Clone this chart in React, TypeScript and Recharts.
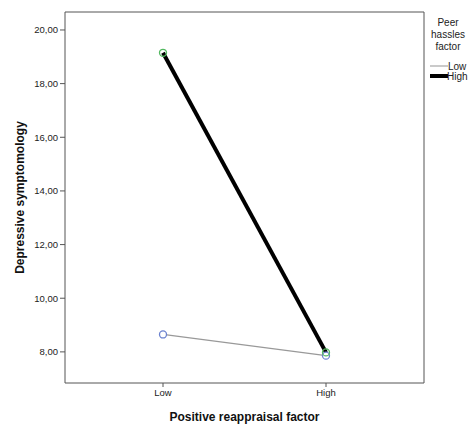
import { LineChart, Line, XAxis, YAxis } from "recharts";

const reappraisalLevels = ["Low", "High"];
const lowHassles = [8.65, 7.86];
const highHassles = [19.15, 7.98];
const yTicks = [8, 10, 12, 14, 16, 18, 20];
const yDomain = [6.84, 20.67];

const data = reappraisalLevels.map((level, i) => ({
  level,
  low: lowHassles[i],
  high: highHassles[i],
}));

const FONT = "'Liberation Sans', Arial, sans-serif";
const fmt = (v: number) => v.toFixed(2).replace(".", ",");

const BlueDot = (props: any) => {
  const { cx, cy } = props;
  if (cx == null || cy == null) return null;
  return <circle cx={cx} cy={cy} r={3.5} fill="#fff" stroke="#6b82cf" strokeWidth={1.3} />;
};

const GreenDot = (props: any) => {
  const { cx, cy } = props;
  if (cx == null || cy == null) return null;
  return <circle cx={cx} cy={cy} r={3.5} fill="none" stroke="#52b860" strokeWidth={1.3} />;
};

function PeerLegend() {
  return (
    <div
      style={{
        position: "absolute",
        left: 426,
        top: 17,
        width: 44,
        fontFamily: FONT,
        fontSize: 10,
        color: "#222",
        textAlign: "center",
        lineHeight: "12px",
      }}
    >
      <div>Peer</div>
      <div>hassles</div>
      <div>factor</div>
      <svg width={44} height={24} style={{ display: "block", marginTop: 8 }}>
        <line x1={4} y1={5} x2={22} y2={5} stroke="#a6a6a6" strokeWidth={1.2} />
        <text x={22} y={9} fontSize={10} fill="#222" fontFamily={FONT}>Low</text>
        <line x1={4} y1={15} x2={22} y2={15} stroke="#000" strokeWidth={4} />
        <text x={21} y={19} fontSize={10} fill="#222" fontFamily={FONT}>High</text>
      </svg>
    </div>
  );
}

export default function App() {
  return (
    <div style={{ position: "absolute", left: 0, top: 0, width: 470, height: 426, background: "#fff" }}>
      <LineChart width={470} height={426} data={data} margin={{ top: 11, right: 45, left: 20, bottom: 13 }}>
        <XAxis
          dataKey="level"
          padding={{ left: 98, right: 98 }}
          height={30}
          stroke="#555"
          tickLine={{ stroke: "#555" }}
          tickSize={4}
          tick={{ fill: "#222", fontSize: 9.5, fontFamily: FONT }}
          label={{
            value: "Positive reappraisal factor",
            position: "insideBottom",
            offset: -8,
            style: { fontFamily: FONT, fontSize: 12, fontWeight: "bold", fill: "#111" },
          }}
        />
        {/* top and right edges of the plot frame */}
        <XAxis xAxisId="top" orientation="top" dataKey="level" height={1} tick={false} tickLine={false} stroke="#555" />
        <YAxis
          domain={yDomain}
          ticks={yTicks}
          width={45}
          stroke="#555"
          tickSize={5}
          tickFormatter={fmt}
          tick={{ fill: "#222", fontSize: 9.5, fontFamily: FONT }}
          label={{
            value: "Depressive symptomology",
            angle: -90,
            position: "insideLeft",
            offset: 0,
            dx: 0,
            style: { textAnchor: "middle", fontFamily: FONT, fontSize: 12, fontWeight: "bold", fill: "#111" },
          }}
        />
        <YAxis yAxisId="right" orientation="right" domain={yDomain} width={1} tick={false} tickLine={false} stroke="#555" />
        <Line
          dataKey="low"
          stroke="#999"
          strokeWidth={1.2}
          dot={<BlueDot />}
          activeDot={false}
          isAnimationActive={false}
        />
        <Line
          dataKey="high"
          stroke="#000"
          strokeWidth={4}
          dot={<GreenDot />}
          activeDot={false}
          isAnimationActive={false}
        />
      </LineChart>
      <PeerLegend />
    </div>
  );
}
